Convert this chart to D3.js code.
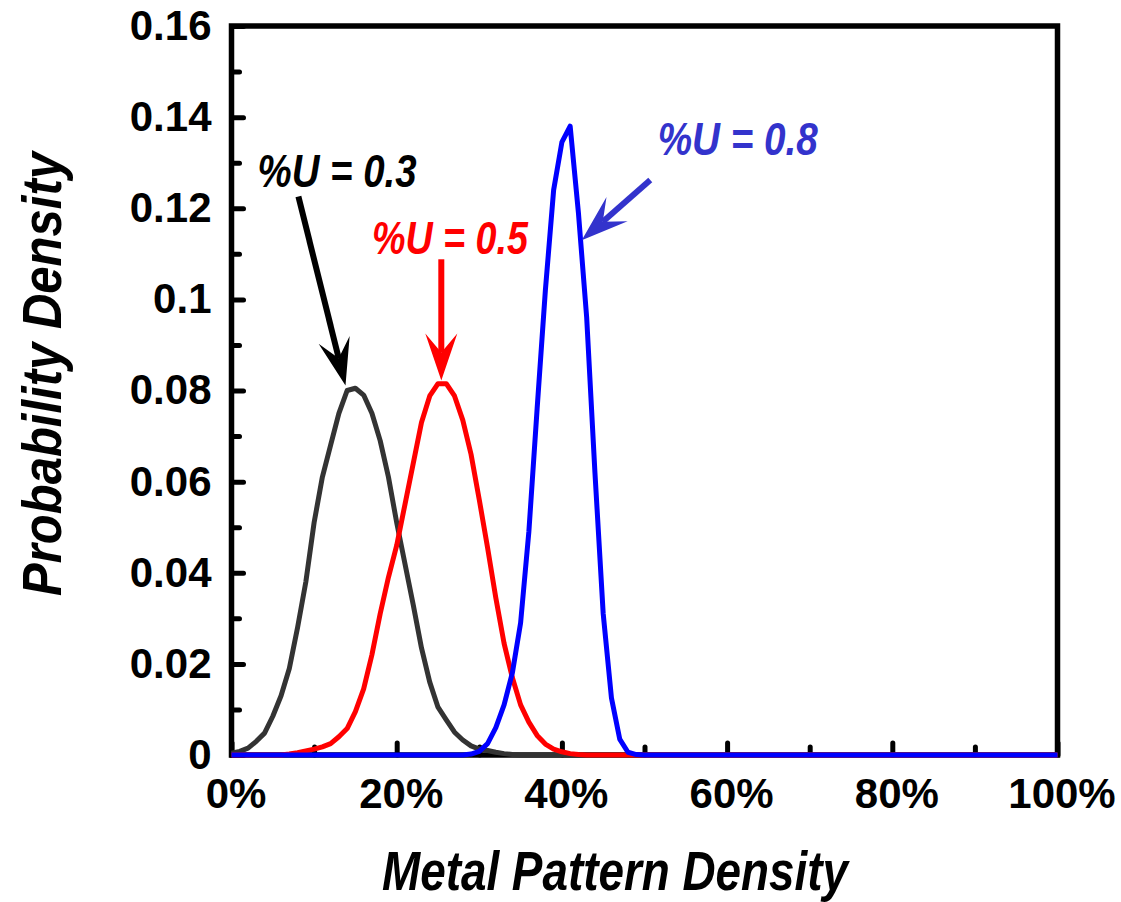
<!DOCTYPE html>
<html><head><meta charset="utf-8">
<script src="https://cdn.jsdelivr.net/npm/d3@7/dist/d3.min.js"></script>
<style>body{margin:0;background:#fff} svg{display:block}</style>
</head><body><svg id="c" width="1121" height="902"></svg>
<script>
// x values (percent metal pattern density)
const xPct = [0,1,2,3,4,5,6,7,8,9,10,11,12,13,14,15,16,17,18,19,20,21,22,23,24,25,26,27,28,29,30,31,32,33,34,35,36,37,38,39,40,41,42,43,44,45,46,47,48,49,50,60,70,80,90,100];
// %U = 0.3
const yBlack = [0.0004,0.0008,0.0015,0.003,0.0048,0.0085,0.013,0.019,0.028,0.038,0.051,0.061,0.068,0.075,0.080,0.0805,0.079,0.075,0.069,0.061,0.051,0.042,0.033,0.0235,0.016,0.0105,0.0077,0.005,0.0033,0.002,0.0013,0.001,0.0006,0.0003,0.0001,0,0,0,0,0,0,0,0,0,0,0,0,0,0,0,0,0,0,0,0,0];
// %U = 0.5
const yRed = [0,0,0,0,0,0,0,0.0002,0.0005,0.0009,0.0013,0.0018,0.0025,0.004,0.0058,0.0095,0.0145,0.022,0.031,0.039,0.046,0.055,0.064,0.073,0.0788,0.0815,0.0815,0.0788,0.0735,0.066,0.056,0.0455,0.0345,0.0245,0.017,0.011,0.0072,0.0043,0.0024,0.0013,0.0007,0.0003,0.0001,0,0,0,0,0,0,0,0,0,0,0,0,0];
// %U = 0.8
const yBlue = [0,0,0,0,0,0,0,0,0,0,0,0,0,0,0,0,0,0,0,0,0,0,0,0,0,0,0,0,0,0.0002,0.0008,0.0025,0.006,0.011,0.018,0.029,0.049,0.076,0.102,0.124,0.1345,0.138,0.119,0.096,0.062,0.031,0.0125,0.0035,0.0006,0.0001,0,0,0,0,0,0];

const seriesNames = ["%U = 0.3","%U = 0.5","%U = 0.8"];
const seriesColors = ["#333333","#ff0000","#0000ff"];
const seriesValues = [yBlack, yRed, yBlue];

const xTicks = [0,20,40,60,80,100];
const xTickLabels = ["0%","20%","40%","60%","80%","100%"];
const xMinor = [10,30,50,70,90];
const yTicks = [0,0.02,0.04,0.06,0.08,0.1,0.12,0.14,0.16];
const yTickLabels = ["0","0.02","0.04","0.06","0.08","0.1","0.12","0.14","0.16"];
const yMinor = [0.01,0.03,0.05,0.07,0.09,0.11,0.13,0.15];

// annotation anchors in data units
const labelPos = [[3.15,0.1246],[17.0,0.1099],[51.6,0.1316]];
const labelColors = ["#000000","#ff0000","#3333cc"];
const arrowFrom = [[8.1,0.1226],[25.4,0.1088],[50.7,0.1262]];
const arrowTo = [[13.8,0.0811],[25.4,0.0822],[42.4,0.1130]];
const arrowColors = ["#000000","#ff0000","#3333cc"];

const svg = d3.select("#c");
const L = 231.5, R = 1057.5, T = 26, B = 755;
const x = d3.scaleLinear().domain([0,100]).range([L,R]);
const y = d3.scaleLinear().domain([0,0.16]).range([B,T]);

const tickFont = "'Liberation Sans', Arial, sans-serif";
const titleFont = "'Liberation Sans', Arial, sans-serif";

// Y axis
const gy = svg.append("g").attr("transform",`translate(${L},0)`)
  .call(d3.axisLeft(y).tickValues(yTicks).tickFormat((d,i)=>yTickLabels[i]).tickSize(-12).tickPadding(20));
const gyMinor = svg.append("g").attr("transform",`translate(${L},0)`)
  .call(d3.axisLeft(y).tickValues(yMinor).tickFormat("").tickSize(-8));
// X axis
const gx = svg.append("g").attr("transform",`translate(0,${B})`)
  .call(d3.axisBottom(x).tickValues(xTicks).tickFormat((d,i)=>xTickLabels[i]).tickSize(-12).tickPadding(24));
const gxMinor = svg.append("g").attr("transform",`translate(0,${B})`)
  .call(d3.axisBottom(x).tickValues(xMinor).tickFormat("").tickSize(-8));

[gy,gyMinor,gx,gxMinor].forEach(g=>{
  g.select(".domain").remove();
  g.selectAll(".tick line").attr("stroke","#000").attr("stroke-width",5).attr("stroke-linecap","round");
  g.selectAll(".tick text").attr("fill","#000").style("font-family",tickFont).style("font-weight","bold").style("font-size","42px");
});
gx.selectAll(".tick text").attr("dx",4).attr("dy","0.68em");

// frame
svg.append("rect").attr("x",L).attr("y",T).attr("width",R-L).attr("height",B-T)
  .attr("fill","none").attr("stroke","#000").attr("stroke-width",5.5);

// curves
const line = d3.line().x((d,i)=>x(xPct[i])).y(d=>y(d));
seriesValues.forEach((vals,k)=>{
  svg.append("path").datum(vals).attr("d",line).attr("fill","none")
    .attr("stroke",seriesColors[k]).attr("stroke-width",5).attr("stroke-linejoin","round")
    .attr("aria-label",seriesNames[k]);
});

// arrows
function arrow(p0,p1,color){
  const x0=x(p0[0]),y0=y(p0[1]),x1=x(p1[0]),y1=y(p1[1]);
  const dx=x1-x0, dy=y1-y0, len=Math.hypot(dx,dy), ux=dx/len, uy=dy/len, nx=-uy, ny=ux;
  const HL=47, HW=16, NOTCH=28;
  const bx=x1-ux*HL, by=y1-uy*HL;
  const mx=x1-ux*NOTCH, my=y1-uy*NOTCH;
  svg.append("line").attr("x1",x0).attr("y1",y0).attr("x2",mx).attr("y2",my)
    .attr("stroke",color).attr("stroke-width",6);
  svg.append("path").attr("d",`M${x1},${y1}L${bx+nx*HW},${by+ny*HW}L${mx},${my}L${bx-nx*HW},${by-ny*HW}Z`)
    .attr("fill",color);
}
arrowFrom.forEach((p,i)=>arrow(p,arrowTo[i],arrowColors[i]));

// labels
const labelLens = [159,156,160];
labelPos.forEach((p,i)=>{
  svg.append("text").attr("x",x(p[0])).attr("y",y(p[1])).text(seriesNames[i])
    .attr("fill",labelColors[i]).style("font-family",titleFont)
    .attr("textLength",labelLens[i]).attr("lengthAdjust","spacingAndGlyphs")
    .style("font-weight","bold").style("font-style","italic").style("font-size","47px");
});

// axis titles
svg.append("text").attr("x",382).attr("y",890)
  .text("Metal Pattern Density").style("font-family",titleFont)
  .attr("textLength",466).attr("lengthAdjust","spacingAndGlyphs")
  .style("font-weight","bold").style("font-style","italic").style("font-size","56px");
svg.append("text").attr("transform","translate(61,596) rotate(-90)")
  .text("Probability Density").style("font-family",titleFont)
  .attr("textLength",444).attr("lengthAdjust","spacingAndGlyphs")
  .style("font-weight","bold").style("font-style","italic").style("font-size","56px");
</script></body></html>
